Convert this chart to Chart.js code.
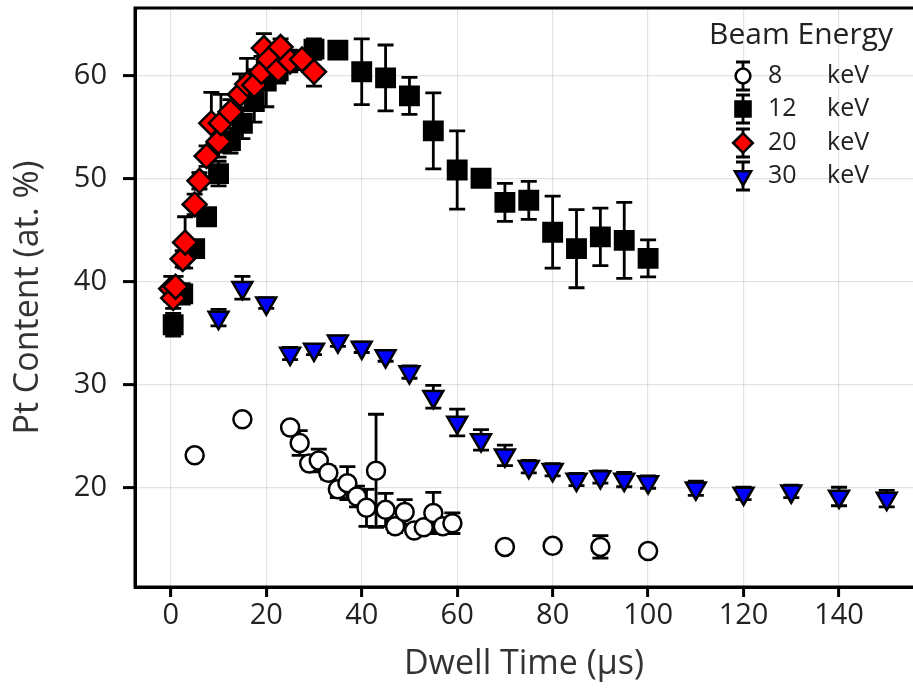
<!DOCTYPE html>
<html>
<head>
<meta charset="utf-8">
<script src="https://cdn.jsdelivr.net/npm/chart.js@4.4.1/dist/chart.umd.min.js"></script>
<style>
  html, body { margin: 0; padding: 0; background: #fff; }
  #wrap { width: 913px; height: 691px; }
</style>
</head>
<body>
<div id="wrap"><canvas id="chart" width="913" height="691"></canvas></div>
<script>
// beam energies (legend) and axis ticks
const energies = ['8', '12', '20', '30'];
const unit = 'keV';
const xTicks = [0, 20, 40, 60, 80, 100, 120, 140];
const yTicks = [20, 30, 40, 50, 60];

// 8 keV
const time8 = [5, 15, 25, 27, 29, 31, 33, 35, 37, 39, 41, 43, 45, 47, 49, 51, 53, 55, 57, 59, 70, 80, 90, 100];
const pt8 = [23.1, 26.6, 25.8, 24.3, 22.3, 22.6, 21.4, 19.8, 20.4, 19.1, 18.0, 21.6, 17.8, 16.2, 17.6, 15.8, 16.1, 17.5, 16.2, 16.5, 14.2, 14.3, 14.2, 13.8];
const err8 = [0.4, 0.2, 0.5, 1.2, 0.5, 1.1, 0.6, 0.8, 1.6, 1.0, 1.8, 5.5, 1.6, 0.6, 1.2, 0.3, 0.5, 2.0, 0.5, 1.0, 0.2, 0.3, 1.1, 0.2];

// 12 keV
const time12 = [0.5, 2.5, 5, 7.5, 10, 12.5, 15, 17.5, 20, 22.5, 25, 30, 35, 40, 45, 50, 55, 60, 65, 70, 75, 80, 85, 90, 95, 100];
const pt12 = [35.8, 38.8, 43.2, 46.3, 50.5, 53.7, 55.4, 57.5, 59.5, 60.5, 61.5, 62.6, 62.5, 60.4, 59.8, 58.05, 54.65, 50.85, 50.05, 47.7, 47.9, 44.8, 43.2, 44.35, 44.0, 42.25];
const err12 = [1.1, 1.0, 0.8, 0.8, 1.2, 1.2, 1.5, 2.0, 2.5, 1.0, 1.0, 1.0, 0.4, 3.2, 3.2, 1.8, 3.7, 3.8, 0.3, 1.85, 1.85, 3.5, 3.8, 2.8, 3.7, 1.8];

// 20 keV
const time20 = [0.1, 0.5, 1, 2.5, 3, 5, 6, 7.5, 8.5, 10, 10.5, 12.5, 14.5, 16, 17.5, 19, 19.5, 20.5, 22.5, 23, 25, 27.5, 30];
const pt20 = [39.3, 38.4, 39.5, 42.2, 43.8, 47.5, 49.8, 52.2, 55.4, 53.6, 55.4, 56.5, 58.2, 59.2, 59.1, 60.4, 62.7, 61.6, 60.6, 62.8, 61.4, 61.6, 60.4];
const err20 = [1.2, 1.0, 1.0, 0.8, 2.5, 1.0, 0.8, 1.0, 3.0, 1.5, 2.8, 1.2, 2.0, 2.5, 1.5, 1.5, 1.4, 1.0, 1.3, 0.8, 1.0, 0.8, 1.4];

// 30 keV
const time30 = [10, 15, 20, 25, 30, 35, 40, 45, 50, 55, 60, 65, 70, 75, 80, 85, 90, 95, 100, 110, 120, 130, 140, 150];
const pt30 = [36.5, 39.4, 37.9, 33.0, 33.4, 34.2, 33.6, 32.75, 31.2, 28.8, 26.3, 24.6, 23.1, 22.0, 21.7, 20.75, 21.0, 20.75, 20.5, 19.9, 19.4, 19.6, 19.1, 18.9];
const err30 = [0.8, 1.1, 0.5, 0.6, 0.5, 0.5, 0.5, 0.5, 0.6, 1.1, 1.3, 1.0, 1.0, 0.6, 0.6, 0.6, 0.6, 0.7, 0.6, 0.7, 0.6, 0.6, 0.9, 0.8];

const FONT = "'Open Sans', 'Noto Sans', sans-serif";

function points(xs, ys) {
  return xs.map((x, i) => ({ x: x, y: ys[i] }));
}

// marker look per series
const styles = [
  { pointStyle: 'circle', radius: 9, fill: '#ffffff', rotation: 0 },
  { pointStyle: 'rect', radius: 13, fill: '#000000', rotation: 0 },
  { pointStyle: 'rectRot', radius: 12, fill: '#ff0000', rotation: 0 },
  { pointStyle: 'triangle', radius: 11.5, fill: '#0000ff', rotation: 180 }
];
const allData = [[time8, pt8, err8], [time12, pt12, err12], [time20, pt20, err20], [time30, pt30, err30]];

const datasets = allData.map((d, i) => ({
  label: energies[i] + ' ' + unit,
  data: points(d[0], d[1]),
  errors: d[2],
  showLine: false,
  order: 4 - i,
  pointStyle: styles[i].pointStyle,
  pointRadius: styles[i].radius,
  pointHoverRadius: styles[i].radius,
  pointRotation: styles[i].rotation,
  pointBackgroundColor: styles[i].fill,
  pointBorderColor: '#000',
  pointBorderWidth: 2.5
}));

const CAP = 8;

const errorBars = {
  id: 'errorBars',
  beforeDatasetDraw(chart, args) {
    const ds = chart.data.datasets[args.index];
    const xs = chart.scales.x, ys = chart.scales.y;
    const ctx = chart.ctx;
    const a = chart.chartArea;
    ctx.save();
    ctx.beginPath();
    ctx.rect(a.left, a.top, a.right - a.left, a.bottom - a.top);
    ctx.clip();
    ctx.strokeStyle = '#000';
    ctx.lineWidth = 2.8;
    ds.data.forEach((p, i) => {
      const e = ds.errors[i];
      const px = xs.getPixelForValue(p.x);
      const y1 = ys.getPixelForValue(p.y - e);
      const y2 = ys.getPixelForValue(p.y + e);
      ctx.beginPath();
      ctx.moveTo(px, y1); ctx.lineTo(px, y2);
      ctx.moveTo(px - CAP, y1); ctx.lineTo(px + CAP, y1);
      ctx.moveTo(px - CAP, y2); ctx.lineTo(px + CAP, y2);
      ctx.stroke();
    });
    ctx.restore();
  }
};

const frameAndLegend = {
  id: 'frameAndLegend',
  afterDraw(chart) {
    const ctx = chart.ctx;
    const a = chart.chartArea;
    ctx.save();
    ctx.strokeStyle = '#000';
    ctx.lineWidth = 3;
    ctx.strokeRect(a.left, a.top, a.right - a.left + 4, a.bottom - a.top);

    // legend
    ctx.fillStyle = '#222';
    ctx.font = '30px ' + FONT;
    ctx.textBaseline = 'alphabetic';
    ctx.textAlign = 'left';
    ctx.fillText('Beam Energy', 709, 44);
    const rows = [76, 109, 143, 176];
    const mx = 743;
    energies.forEach((en, i) => {
      const y = rows[i];
      ctx.strokeStyle = '#000';
      ctx.lineWidth = 2.8;
      ctx.beginPath();
      ctx.moveTo(mx, y - 14); ctx.lineTo(mx, y + 14);
      ctx.moveTo(mx - 7, y - 14); ctx.lineTo(mx + 7, y - 14);
      ctx.moveTo(mx - 7, y + 14); ctx.lineTo(mx + 7, y + 14);
      ctx.stroke();
      ctx.fillStyle = styles[i].fill;
      ctx.lineWidth = 2.5;
      Chart.helpers.drawPoint(ctx, {
        pointStyle: styles[i].pointStyle,
        rotation: styles[i].rotation,
        radius: styles[i].radius * 0.82,
        borderWidth: 2.5
      }, mx, y);
      ctx.fillStyle = '#222';
      ctx.font = '25px ' + FONT;
      ctx.textBaseline = 'middle';
      ctx.fillText(en, 768, y);
      ctx.fillText(unit, 827, y);
    });
    ctx.restore();
  }
};

function noPad(s) {
  s.paddingTop = 0; s.paddingBottom = 0; s.paddingLeft = 0; s.paddingRight = 0;
}

new Chart(document.getElementById('chart'), {
  type: 'scatter',
  data: { datasets: datasets },
  plugins: [errorBars, frameAndLegend],
  options: {
    responsive: false,
    animation: false,
    events: [],
    layout: { autoPadding: false, padding: { top: 8, right: 0, bottom: 0, left: 0 } },
    plugins: { legend: { display: false }, tooltip: { enabled: false } },
    scales: {
      x: {
        type: 'linear',
        min: -7.5,
        max: 155.5,
        afterBuildTicks: s => { s.ticks = xTicks.map(v => ({ value: v })); },
        afterFit: s => { s.height = 104; noPad(s); },
        ticks: { font: { family: FONT, size: 29 }, color: '#222', padding: 1, maxRotation: 0, autoSkip: false },
        grid: { color: 'rgba(0,0,0,0.11)', lineWidth: 1.2, tickLength: 10, tickColor: '#000', tickWidth: 3 },
        border: { display: true, color: '#000', width: 3 },
        title: { display: true, text: 'Dwell Time (µs)', color: '#333', font: { family: FONT, size: 34 }, padding: { top: 0, bottom: 6 } }
      },
      y: {
        type: 'linear',
        min: 10.3,
        max: 66.6,
        afterBuildTicks: s => { s.ticks = yTicks.map(v => ({ value: v })); },
        afterFit: s => { s.width = 135; noPad(s); },
        ticks: { font: { family: FONT, size: 29 }, color: '#222', padding: 16, autoSkip: false },
        grid: { color: 'rgba(0,0,0,0.11)', lineWidth: 1.2, tickLength: 12, tickColor: '#000', tickWidth: 3 },
        border: { display: true, color: '#000', width: 3 },
        title: { display: true, text: 'Pt Content (at. %)', color: '#333', font: { family: FONT, size: 34 }, padding: { top: 8, bottom: 0 } }
      }
    }
  }
});
</script>
</body>
</html>
